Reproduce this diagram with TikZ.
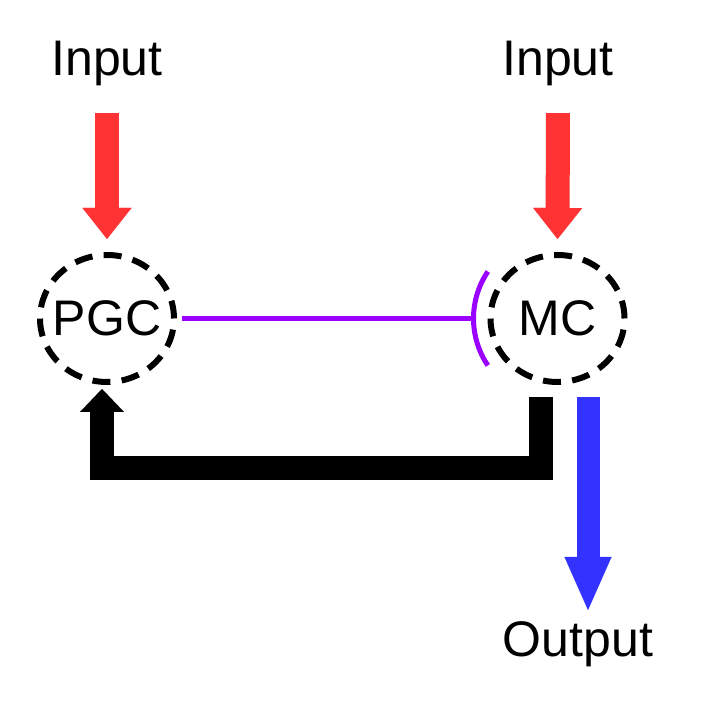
\documentclass[tikz,border=0pt]{standalone}
\usepackage{fontspec}
\setmainfont{Liberation Sans}
\usetikzlibrary{arrows.meta, shapes.geometric}

\definecolor{inred}{HTML}{FF3333}
\definecolor{outblue}{HTML}{3333FF}
\definecolor{inhibpurple}{HTML}{9900FF}

\begin{document}
\begin{tikzpicture}[
  x=1pt, y=1pt,
  cell/.style={ellipse, draw, line width=6pt, dash pattern=on 18pt off 11.3pt,
    minimum width=134pt, minimum height=127pt, inner xsep=-20pt, inner ysep=0pt, outer sep=0pt},
  lbl/.style={font=\fontsize{50}{60}\selectfont, inner sep=0pt},
  inarrow/.style={-{Triangle[length=31pt, width=49pt, line width=0.01pt]}, line width=24pt, inred},
  outarrow/.style={-{Triangle[length=53pt, width=47pt, line width=0.01pt]}, line width=23pt, outblue},
  fback/.style={-{Triangle[length=23pt, width=44pt, line width=0.01pt]}, line width=24pt, line join=miter},
  inhib/.style={line width=5pt, inhibpurple},
]
\useasboundingbox (0,0) rectangle (707,708);

% cells
\node[lbl, cell] (pgc) at (107,389.5) {PGC};
\node[lbl, cell] (mc) at (557.5,389.5) {MC};

% labels
\node[lbl, anchor=base] (inL) at (107,632) {Input};
\node[lbl, anchor=base] (inR) at (558,632) {Input};
\node[lbl, anchor=base] (out) at (578,51) {Output};

% inputs
\draw[inarrow, shorten <=26.5pt, shorten >=16pt] (inL.south) -- (pgc.north);
\draw[inarrow, shorten <=26.5pt, shorten >=16pt] (inR.south) -- (mc.north);

% inhibition PGC -> MC
\coordinate (blk) at ([xshift=-84pt]mc.center);
\draw[inhib, shorten <=8pt] (pgc.east) -- (blk);
\draw[inhib] (mc.center) ++(146:84) arc[start angle=146, end angle=214, radius=84];

% feedback MC -> PGC
\coordinate (fbTop) at (541,311);
\coordinate (fbTip) at (102,319);
\draw[fback] (fbTop) -- ++(0,-71) -| (fbTip);

% output
\coordinate (outTop) at (588,311);
\coordinate (outTip) at (588,98);
\draw[outarrow] (outTop) -- (outTip);

\end{tikzpicture}
\end{document}
